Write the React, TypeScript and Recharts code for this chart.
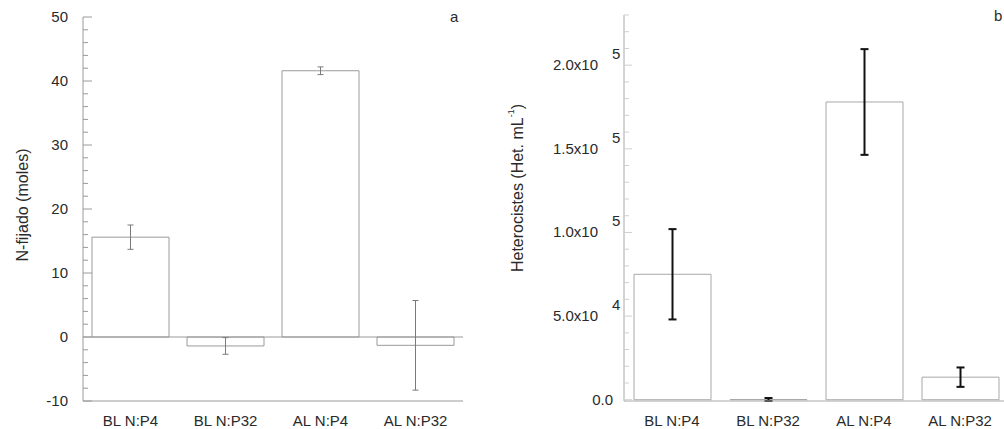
import React from 'react';
import { BarChart, Bar, XAxis, YAxis, ErrorBar, ReferenceLine } from 'recharts';

// Shared categories for both panels
const categories = ['BL N:P4', 'BL N:P32', 'AL N:P4', 'AL N:P32'];

// Panel a: fixed nitrogen (moles), mean and error
const nFixed = [15.6, -1.4, 41.6, -1.3];
const nFixedErr = [1.9, 1.3, 0.6, 7.0];
const nTicks = [-10, -8, -6, -4, -2, 0, 2, 4, 6, 8, 10, 12, 14, 16, 18, 20, 22, 24, 26, 28, 30, 32, 34, 36, 38, 40, 42, 44, 46, 48, 50];

// Panel b: heterocysts (Het. mL-1), mean and error
const heterocysts = [75000, 150, 178000, 13500];
const heterocystsErr = [27000, 900, 31600, 5800];
const hetTicks = [0, 10000, 20000, 30000, 40000, 50000, 60000, 70000, 80000, 90000, 100000, 110000, 120000, 130000, 140000, 150000, 160000, 170000, 180000, 190000, 200000, 210000, 220000, 230000];

const FONT = '"Liberation Sans", Arial, sans-serif';
const TEXT = '#2a2a2a';
const LINE_A = '#9a9a9a';
const LINE_B = '#a8a8a8';

const dataA = categories.map((name, i) => ({ name, value: nFixed[i], err: nFixedErr[i] }));
const dataB = categories.map((name, i) => ({ name, value: heterocysts[i], err: heterocystsErr[i] }));

function NTick(props: any) {
  const { x, y, payload } = props;
  const v = payload.value as number;
  const major = v % 10 === 0;
  return (
    <g>
      <line x1={x} x2={x + (major ? 9 : 5)} y1={y} y2={y} stroke={LINE_A} />
      {major && (
        <text x={x - 15} y={y + 5} textAnchor="end" fontSize={15} fill={TEXT} fontFamily={FONT}>
          {v}
        </text>
      )}
    </g>
  );
}

function HetTick(props: any) {
  const { x, y, payload } = props;
  const v = payload.value as number;
  const major = v % 50000 === 0;
  let label: React.ReactNode = null;
  if (major) {
    if (v === 0) {
      label = (
        <text x={x - 11} y={y + 5} textAnchor="end" fontSize={15} fill={TEXT} fontFamily={FONT}>
          0.0
        </text>
      );
    } else {
      const exp = Math.floor(Math.log10(v) + 1e-9);
      const mant = v / Math.pow(10, exp);
      label = (
        <g>
          <text x={x - 26} y={y + 5} textAnchor="end" fontSize={15} fill={TEXT} fontFamily={FONT}>
            {`${mant.toFixed(1)}x10`}
          </text>
          <text x={x - 12} y={y - 6} textAnchor="start" fontSize={15} fill={TEXT} fontFamily={FONT}>
            {exp}
          </text>
        </g>
      );
    }
  }
  return (
    <g>
      <line x1={x} x2={x + (major ? 8 : 5)} y1={y} y2={y} stroke="#cfcfcf" />
      {label}
    </g>
  );
}

export default function App() {
  return (
    <div
      style={{
        position: 'absolute',
        left: 0,
        top: 0,
        width: 1004,
        height: 429,
        overflow: 'hidden',
        background: '#fff',
        fontFamily: FONT,
      }}
    >
      <div style={{ position: 'absolute', left: 0, top: 0 }}>
        <BarChart width={500} height={429} data={dataA} margin={{ top: 17, right: 37, bottom: 0, left: 0 }} barSize={77}>
          <XAxis
            dataKey="name"
            interval={0}
            height={28}
            axisLine={{ stroke: LINE_A }}
            tickLine={false}
            tickSize={0}
            tickMargin={14}
            tick={{ fill: TEXT, fontSize: 15, fontFamily: FONT }}
          />
          <YAxis
            type="number"
            width={83}
            domain={[-10, 50]}
            ticks={nTicks}
            interval={0}
            axisLine={{ stroke: LINE_A }}
            tickLine={false}
            tickSize={0}
            tickMargin={0}
            tick={(p: any) => <NTick {...p} />}
          />
          <ReferenceLine y={0} stroke={LINE_A} />
          <Bar dataKey="value" fill="#fff" stroke={LINE_A} strokeWidth={1} isAnimationActive={false}>
            <ErrorBar dataKey="err" width={3} stroke="#7a7a7a" strokeWidth={1} />
          </Bar>
        </BarChart>
      </div>

      <div style={{ position: 'absolute', left: 500, top: 0 }}>
        <BarChart width={508} height={429} data={dataB} margin={{ top: 15, right: 0, bottom: 0, left: 0 }} barSize={77}>
          <XAxis
            dataKey="name"
            interval={0}
            height={28}
            axisLine={{ stroke: LINE_B }}
            tickLine={false}
            tickSize={0}
            tickMargin={14}
            tick={{ fill: TEXT, fontSize: 15, fontFamily: FONT }}
          />
          <YAxis
            type="number"
            width={124}
            domain={[0, 230000]}
            ticks={hetTicks}
            interval={0}
            axisLine={{ stroke: LINE_B }}
            tickLine={false}
            tickSize={0}
            tickMargin={0}
            tick={(p: any) => <HetTick {...p} />}
          />
          <Bar dataKey="value" fill="#fff" stroke={LINE_B} strokeWidth={1} isAnimationActive={false}>
            <ErrorBar dataKey="err" width={4} stroke="#111" strokeWidth={2} />
          </Bar>
        </BarChart>
      </div>

      <svg
        width={1004}
        height={429}
        style={{ position: 'absolute', left: 0, top: 0, pointerEvents: 'none' }}
        fontFamily={FONT}
      >
        <text x={22} y={205} transform="rotate(-90, 22, 205)" textAnchor="middle" dominantBaseline="central" fontSize={16} fill={TEXT}>
          N-fijado (moles)
        </text>
        <text x={517} y={188} transform="rotate(-90, 517, 188)" textAnchor="middle" dominantBaseline="central" fontSize={16} fill={TEXT}>
          Heterocistes (Het. mL
          <tspan fontSize={9} dy={-6}>-1</tspan>
          <tspan dy={6}>)</tspan>
        </text>
        <text x={450} y={22} fontSize={15} fill={TEXT}>a</text>
        <text x={994} y={21} fontSize={15} fill={TEXT}>b</text>
      </svg>
    </div>
  );
}
